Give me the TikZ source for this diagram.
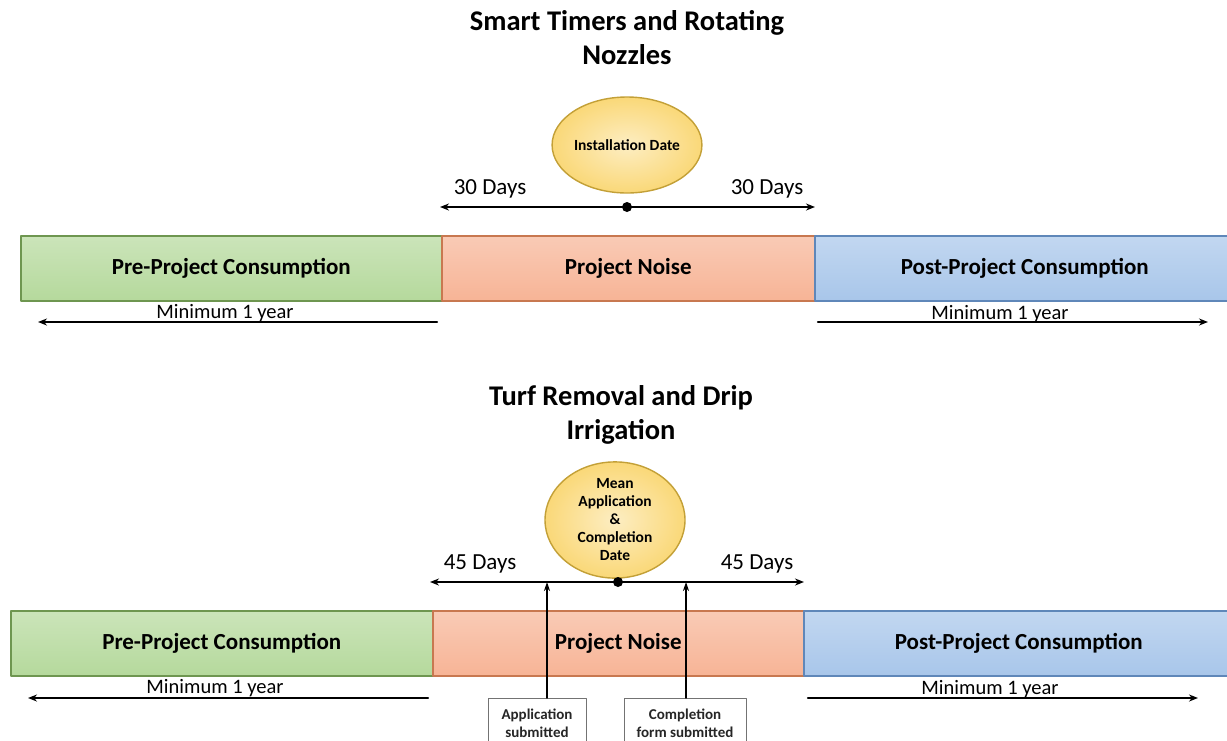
\documentclass[tikz,border=0pt]{standalone}
\usepackage{fontspec}
\setmainfont{Carlito}
\usepackage{tikz}
\usetikzlibrary{positioning,calc,shapes.geometric,arrows.meta}

\definecolor{preGreen}{RGB}{181,217,156}
\definecolor{preGreenD}{RGB}{110,150,80}
\definecolor{noiseOr}{RGB}{247,180,150}
\definecolor{noiseOrD}{RGB}{200,120,80}
\definecolor{postBlue}{RGB}{168,198,234}
\definecolor{postBlueD}{RGB}{95,135,185}
\definecolor{dateYel}{RGB}{250,216,120}
\definecolor{dateYelD}{RGB}{195,160,55}

\begin{document}
\begin{tikzpicture}[x=1pt,y=-1pt, line cap=round, line join=round]
				% ===== frame =====
				\clip (0,0) rectangle (1227,740);
				\useasboundingbox (0,0) rectangle (1227,740);
				
				% ===== styles =====
				\tikzset{
					bar/.style={rectangle, anchor=north west, minimum height=65pt, inner sep=0pt, line width=1.6pt, font=\fontsize{23}{26}\selectfont\bfseries},
					prebar/.style={bar, draw=preGreenD, top color=preGreen!70!white, bottom color=preGreen},
					noisebar/.style={bar, draw=noiseOrD, top color=noiseOr!70!white, bottom color=noiseOr},
					postbar/.style={bar, draw=postBlueD, top color=postBlue!70!white, bottom color=postBlue},
					datebox/.style={ellipse, draw=dateYelD, line width=1.4pt, inner color=dateYel!45!white, outer color=dateYel, inner sep=0pt, font=\fontsize{15.5}{18}\selectfont\bfseries, align=center},
					ttl/.style={font=\fontsize{28.5}{34}\selectfont\bfseries, align=center},
					days/.style={font=\fontsize{23}{26}\selectfont},
					minlbl/.style={font=\fontsize{20.5}{22}\selectfont, inner sep=0pt},
					tick/.style={circle, fill=black, inner sep=0pt, minimum size=10pt},
					span/.style={line width=1.6pt, {Stealth[length=9pt,width=7pt]}-{Stealth[length=9pt,width=7pt]}},
					yr/.style={line width=2.4pt, -{Stealth[length=9pt,width=7pt]}},
					note/.style={draw=black!55, fill=white, anchor=north, inner xsep=2pt, inner ysep=4pt, minimum height=50pt, text depth=0pt, font=\fontsize{15}{18}\selectfont\bfseries, align=center, text=black!85},
					up/.style={line width=1.4pt, -{Stealth[length=9pt,width=6pt]}}
				}
				
				% ===== smart timers and rotating nozzles =====
				\node[ttl] (tA) at (627,38) {Smart Timers and Rotating\\Nozzles};
				\node[datebox, minimum width=144pt, minimum height=96pt] (dateA) at (627,145) {Installation Date};
				\node[days] (dA1) at (490,189) {30 Days};
				\node[days] (dA2) at (767,189) {30 Days};
				\node[tick] (midA) at (627,207) {};
				\coordinate (spanAl) at (440,207);
				\coordinate (spanAr) at (815,207);
				\draw[span] (spanAl) -- (spanAr);
				
				\node[prebar, minimum width=421pt] (preA) at (20,235) {Pre-Project Consumption};
				\node[noisebar, minimum width=373pt] (noiseA) at (441,235) {Project Noise};
				\node[postbar, minimum width=420pt] (postA) at (814,235) {Post-Project Consumption};
				
				\node[minlbl] (minA1) at (225,313) {Minimum 1 year};
				\node[minlbl] (minA2) at (1000,314) {Minimum 1 year};
				\coordinate (yrA1s) at (437,322); \coordinate (yrA1e) at (38,322);
				\coordinate (yrA2s) at (818,322); \coordinate (yrA2e) at (1208,322);
				\draw[yr] (yrA1s) -- (yrA1e);
				\draw[yr] (yrA2s) -- (yrA2e);
				
				% ===== turf removal and drip irrigation =====
				\node[ttl] (tB) at (621,415) {Turf Removal and Drip\\Irrigation};
				\node[datebox, minimum width=140pt, minimum height=100pt] (dateB) at (615,520) {Mean\\Application\\\&\\Completion\\Date};
				\node[days] (dB1) at (480,564) {45 Days};
				\node[days] (dB2) at (757,564) {45 Days};
				\node[tick] (midB) at (618,582) {};
				\coordinate (spanBl) at (430,582);
				\coordinate (spanBr) at (804,582);
				\draw[span] (spanBl) -- (spanBr);
				
				\node[prebar, minimum width=422pt] (preB) at (10,610) {Pre-Project Consumption};
				\node[noisebar, minimum width=371pt] (noiseB) at (432,610) {Project Noise};
				\node[postbar, minimum width=430pt] (postB) at (803,610) {Post-Project Consumption};
				
				\node[minlbl] (minB1) at (215,688) {Minimum 1 year};
				\node[minlbl] (minB2) at (990,689) {Minimum 1 year};
				\coordinate (yrB1s) at (428,698); \coordinate (yrB1e) at (28,698);
				\coordinate (yrB2s) at (808,698); \coordinate (yrB2e) at (1198,698);
				\draw[yr] (yrB1s) -- (yrB1e);
				\draw[yr] (yrB2s) -- (yrB2e);
				
				% ===== submission boxes =====
				\node[note, minimum width=98pt] (appl) at (537,698) {Application\\submitted};
				\node[note, minimum width=122pt] (compl) at (685,698) {Completion\\form submitted};
				\coordinate (applT) at (547,582);
				\coordinate (complT) at (686,582);
				\draw[up] (appl.north -| applT) -- (applT);
				\draw[up] (compl.north -| complT) -- (complT);
\end{tikzpicture}
\end{document}
